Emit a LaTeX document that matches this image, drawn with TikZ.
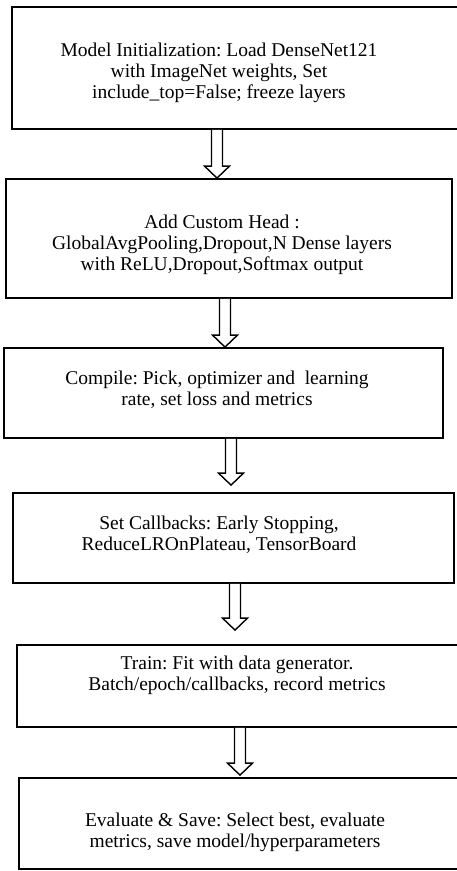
\documentclass[tikz,border=0pt]{standalone}
\usepackage{fontspec}
\setmainfont{Liberation Serif}
\frenchspacing
\usetikzlibrary{calc}
\tikzset{
  stepbox/.style={draw=black, line width=1.8pt, rectangle, inner sep=0pt},
  steptext/.style={align=center, inner sep=0pt, font=\fontsize{19.5}{21}\selectfont},
  blk/.style={draw=black, line width=1.4pt, fill=white, line join=miter},
}
\newcommand\blockarrow[4]{% from, to, x-coordinate name, gap
  \draw[blk] let \p1=(#1.south -| #3), \p2=(#2.north -| #3) in
    (\x1-5.5pt,\y1) -- (\x1-5.5pt,\y2+#4+12pt) -- (\x1-12.5pt,\y2+#4+12pt)
    -- (\x1,\y2+#4) -- (\x1+12.5pt,\y2+#4+12pt) -- (\x1+5.5pt,\y2+#4+12pt)
    -- (\x1+5.5pt,\y1);
}
\begin{document}
\begin{tikzpicture}[x=1pt,y=-1pt]
\useasboundingbox (0,0) rectangle (457,871);
\fill[white] (0,0) rectangle (457,871);
% boxes
\node[stepbox, minimum width=450pt, minimum height=122pt] (b1) at (237,68) {};
\node[stepbox, minimum width=446pt, minimum height=119pt] (b2) at (229,238.5) {};
\node[stepbox, minimum width=439pt, minimum height=90pt] (b3) at (223.5,393) {};
\node[stepbox, minimum width=441pt, minimum height=90pt] (b4) at (233.5,538) {};
\node[stepbox, minimum width=445pt, minimum height=82pt] (b5) at (239.5,686) {};
\node[stepbox, minimum width=443pt, minimum height=91pt] (b6) at (240.5,823.5) {};
% texts
\node[steptext] (t1) at (219,73) {Model Initialization: Load DenseNet121\\with ImageNet weights, Set\\include\_top=False; freeze layers};
\node[steptext] (t2) at (222,245) {Add Custom Head :\\GlobalAvgPooling,Dropout,N Dense layers\\with ReLU,Dropout,Softmax output};
\node[steptext] (t3) at (217,390) {Compile: Pick, optimizer and\ \ learning\\rate, set loss and metrics};
\node[steptext] (t4) at (219,535) {Set Callbacks: Early Stopping,\\ReduceLROnPlateau, TensorBoard};
\node[steptext] (t5) at (237,675) {Train: Fit with data generator.\\Batch/epoch/callbacks, record metrics};
\node[steptext] (t6) at (235,832) {Evaluate \& Save: Select best, evaluate\\metrics, save model/hyperparameters};
% arrow axes
\coordinate (x1) at (217,0);
\coordinate (x2) at (225,0);
\coordinate (x3) at (231,0);
\coordinate (x4) at (235,0);
\coordinate (x5) at (240,0);
\blockarrow{b1}{b2}{x1}{0pt}
\blockarrow{b2}{b3}{x2}{0pt}
\blockarrow{b3}{b4}{x3}{7pt}
\blockarrow{b4}{b5}{x4}{14pt}
\blockarrow{b5}{b6}{x5}{2pt}
\end{tikzpicture}
\end{document}
